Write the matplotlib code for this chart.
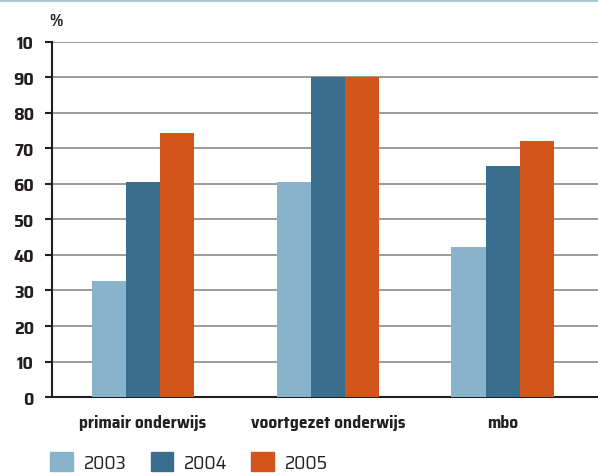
import matplotlib
matplotlib.use('Agg')
import matplotlib.pyplot as plt
import matplotlib.patches as mpatches
import numpy as np

categories = ['primair onderwijs', 'voortgezet onderwijs', 'mbo']
years = ['2003', '2004', '2005']
vals_2003 = [32.7, 60.5, 42.3]
vals_2004 = [60.5, 90.0, 65.0]
vals_2005 = [74.5, 90.0, 72.0]
yticks = [0, 10, 20, 30, 40, 50, 60, 70, 80, 90, 100]
ytick_labels = ['0', '10', '20', '30', '40', '50', '60', '70', '80', '90', '10']
colors = ['#89b3cb', '#3a6e8e', '#d2561b']

plt.rcParams['font.family'] = ['Saira SemiCondensed', 'DejaVu Sans']
text_color = '#231f20'

fig = plt.figure(figsize=(5.98, 4.77), dpi=100)
ax = fig.add_axes([0.087, 0.1656, 0.913, 0.7443])

# group centres, spaced like the original layout
x = np.array([0, 1.03, 2.0])
w = 0.19
series = [vals_2003, vals_2004, vals_2005]
for i, vals in enumerate(series):
    ax.bar(x + (i - 1) * w, vals, width=w, color=colors[i], zorder=3)

ax.set_xlim(-0.505, 2.53)
ax.set_ylim(0, 100)
ax.set_yticks(yticks)
ax.set_yticklabels(ytick_labels, fontsize=13, fontweight='bold', color=text_color)
ax.set_xticks(x)
ax.set_xticklabels(categories, fontsize=12.5, fontweight='bold', color=text_color)
ax.tick_params(axis='x', length=0, pad=12)
ax.tick_params(axis='y', length=5, width=1.5, direction='out', pad=8, color='#231f20')

ax.yaxis.grid(True, color='#8a8a8a', linewidth=1.2, zorder=0)
ax.set_axisbelow(True)
for s in ['top', 'right']:
    ax.spines[s].set_visible(False)
ax.spines['left'].set_linewidth(1.5)
ax.spines['left'].set_color('#231f20')
ax.spines['bottom'].set_linewidth(1.5)
ax.spines['bottom'].set_color('#231f20')

fig.text(0.083, 0.955, '%', fontsize=12, fontweight='bold', color=text_color,
         ha='left', va='center')

# light blue rule along the top edge
fig.add_artist(plt.Line2D([0, 1], [0.998, 0.998], color='#a9c6d9', linewidth=2))

handles = [mpatches.Patch(color=c, label=y) for c, y in zip(colors, years)]
leg = fig.legend(handles=handles, loc='lower left', bbox_to_anchor=(0.055, -0.028),
                 ncol=3, frameon=False, handlelength=1.15, handleheight=1.15,
                 handletextpad=0.55, columnspacing=1.25, prop={'size': 14})
for t in leg.get_texts():
    t.set_color(text_color)

fig.savefig('out.png', dpi=100)
